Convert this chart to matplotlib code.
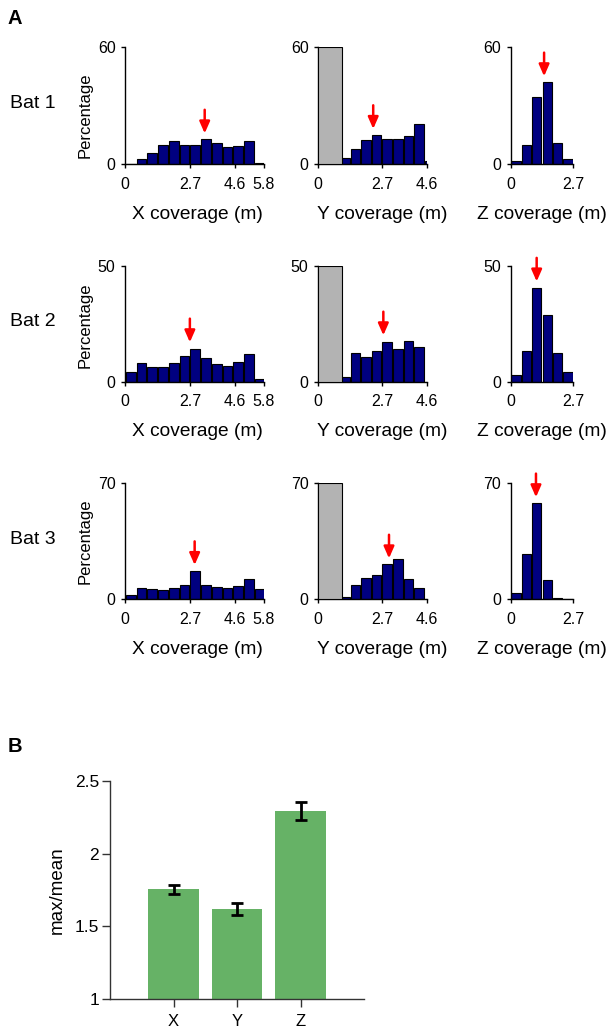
import numpy as np
import matplotlib
matplotlib.use("Agg")
import matplotlib.pyplot as plt

plt.rcParams['font.family'] = ['Liberation Sans', 'DejaVu Sans']

# bin width of the coverage histograms (m)
bin_w = 0.45

bats = ['Bat 1', 'Bat 2', 'Bat 3']
y_max = [60, 50, 70]

# percentage per 0.45 m bin, starting at 0 m
x_cov = [
    [0, 2.6, 5.5, 9.5, 11.9, 9.9, 10.0, 12.6, 10.9, 8.9, 9.2, 11.9, 0.7],
    [4.0, 8.0, 6.3, 6.3, 8.0, 10.9, 14.1, 10.1, 7.8, 6.6, 8.3, 11.9, 1.1],
    [2.8, 6.8, 6.0, 5.6, 6.8, 8.5, 16.9, 8.7, 7.6, 6.8, 8.0, 12.1, 6.0],
]
# Y bins start at 0.9 m (the floor region 0-1 m is shown as a gray bar)
y_cov = [
    [3.1, 7.9, 12.3, 14.7, 12.7, 13.0, 14.4, 20.6, 1.4],
    [2.0, 12.4, 10.6, 13.2, 17.1, 14.1, 17.7, 14.9, 0],
    [1.6, 8.5, 12.9, 14.9, 21.1, 24.3, 12.1, 6.8, 0],
]
y_start = 0.9
floor_end = 1.0
z_cov = [
    [1.4, 9.6, 34.3, 42.2, 10.8, 2.4],
    [2.9, 13.2, 40.2, 28.7, 12.4, 4.0],
    [4.0, 27.4, 57.9, 11.7, 0.8, 0],
]

# red arrows (position in m, tip height in %)
arrow_x = [[3.32, 2.33, 1.44], [2.70, 2.76, 1.12], [2.90, 3.00, 1.09]]
arrow_y = [[15.7, 18.0, 45.0], [17.0, 20.0, 43.2], [20.7, 24.7, 61.6]]

x_lims = [5.8, 4.6, 2.7]
x_ticks = [[0, 2.7, 4.6, 5.8], [0, 2.7, 4.6], [0, 2.7]]
x_names = ['X coverage (m)', 'Y coverage (m)', 'Z coverage (m)']

# panel B
dims = ['X', 'Y', 'Z']
ratio = [1.755, 1.617, 2.295]
ratio_err = [0.03, 0.04, 0.062]

W, H = 609, 1032
fig = plt.figure(figsize=(W / 100, H / 100), dpi=100)

col_px = [(125.3, 264.0), (318.3, 426.7), (510.7, 573.3)]
row_px = [(47.0, 164.0), (265.7, 381.7), (483.3, 599.3)]
perc_y = [0.42, 0.49, 0.5]
label_x = [0.52, 0.59, 0.5]

navy = '#000080'

for r in range(3):
    top, bot = row_px[r]
    for c in range(3):
        l, rr = col_px[c]
        ax = fig.add_axes([l / W, 1 - bot / H, (rr - l) / W, (bot - top) / H])
        if c == 0:
            vals = x_cov[r]
            lefts = np.arange(len(vals)) * bin_w
        elif c == 1:
            vals = y_cov[r]
            lefts = y_start + np.arange(len(vals)) * bin_w
        else:
            vals = z_cov[r]
            lefts = np.arange(len(vals)) * bin_w
        ax.bar(lefts + bin_w / 2, vals, width=bin_w * 0.9, color=navy,
               edgecolor='black', linewidth=0.8)
        if c == 1:
            ax.bar(floor_end / 2, y_max[r], width=floor_end, color='#b3b3b3',
                   edgecolor='black', linewidth=0.8, zorder=3)
        ax.annotate('', xy=(arrow_x[r][c], arrow_y[r][c]), xytext=(0, 17),
                     textcoords='offset points', annotation_clip=False,
                     arrowprops=dict(arrowstyle='-|>,head_length=0.5,head_width=0.22',
                                     color='red', lw=1.8, mutation_scale=14,
                                     shrinkA=0, shrinkB=0))
        ax.set_xlim(0, x_lims[c])
        ax.set_ylim(0, y_max[r])
        ax.set_xticks(x_ticks[c])
        ax.set_xticklabels([('%g' % t) for t in x_ticks[c]])
        ax.set_yticks([0, y_max[r]])
        for s in ['top', 'right']:
            ax.spines[s].set_visible(False)
        for s in ['left', 'bottom']:
            ax.spines[s].set_linewidth(1.0)
        ax.tick_params(direction='out', length=3, width=1, labelsize=11.5)
        ax.tick_params(axis='x', pad=6)
        ax.tick_params(axis='y', pad=4)
        ax.set_xlabel(x_names[c], fontsize=13.8)
        ax.xaxis.set_label_coords(label_x[c], -0.36)
        if c == 0:
            ax.set_ylabel('Percentage', fontsize=12)
            ax.yaxis.set_label_coords(-0.235, perc_y[r])
    fig.text(10 / W, 1 - ((top + bot) / 2 - 2) / H, bats[r], fontsize=14,
             ha='left', va='center')

fig.text(8 / W, 1 - 18 / H, 'A', fontsize=14.5, fontweight='bold', va='center')
fig.text(8 / W, 1 - 746 / H, 'B', fontsize=14.5, fontweight='bold', va='center')

# panel B
axb = fig.add_axes([110 / W, 1 - 998.7 / H, (364 - 110) / W, (998.7 - 781.3) / H])
xpos = np.arange(len(dims))
axb.bar(xpos, ratio, width=0.8, color='#66b266', bottom=0)
axb.errorbar(xpos, ratio, yerr=ratio_err, fmt='none', ecolor='black',
             elinewidth=2, capsize=4.5, capthick=2)
axb.set_xlim(-1, 3)
axb.set_ylim(1, 2.5)
axb.set_yticks([1, 1.5, 2, 2.5])
axb.set_yticklabels(['1', '1.5', '2', '2.5'])
axb.set_xticks(xpos)
axb.set_xticklabels(dims)
for s in ['top', 'right']:
    axb.spines[s].set_visible(False)
for s in ['left', 'bottom']:
    axb.spines[s].set_color('#333333')
    axb.spines[s].set_linewidth(1.0)
axb.tick_params(axis='y', direction='out', length=6, width=1, color='#333333',
                labelsize=12.5, pad=2)
axb.tick_params(axis='x', direction='out', length=6, width=1, color='#333333',
                labelsize=12, pad=5)
axb.set_ylabel('max/mean', fontsize=13.5, labelpad=6)

fig.savefig('out.png', dpi=100)
